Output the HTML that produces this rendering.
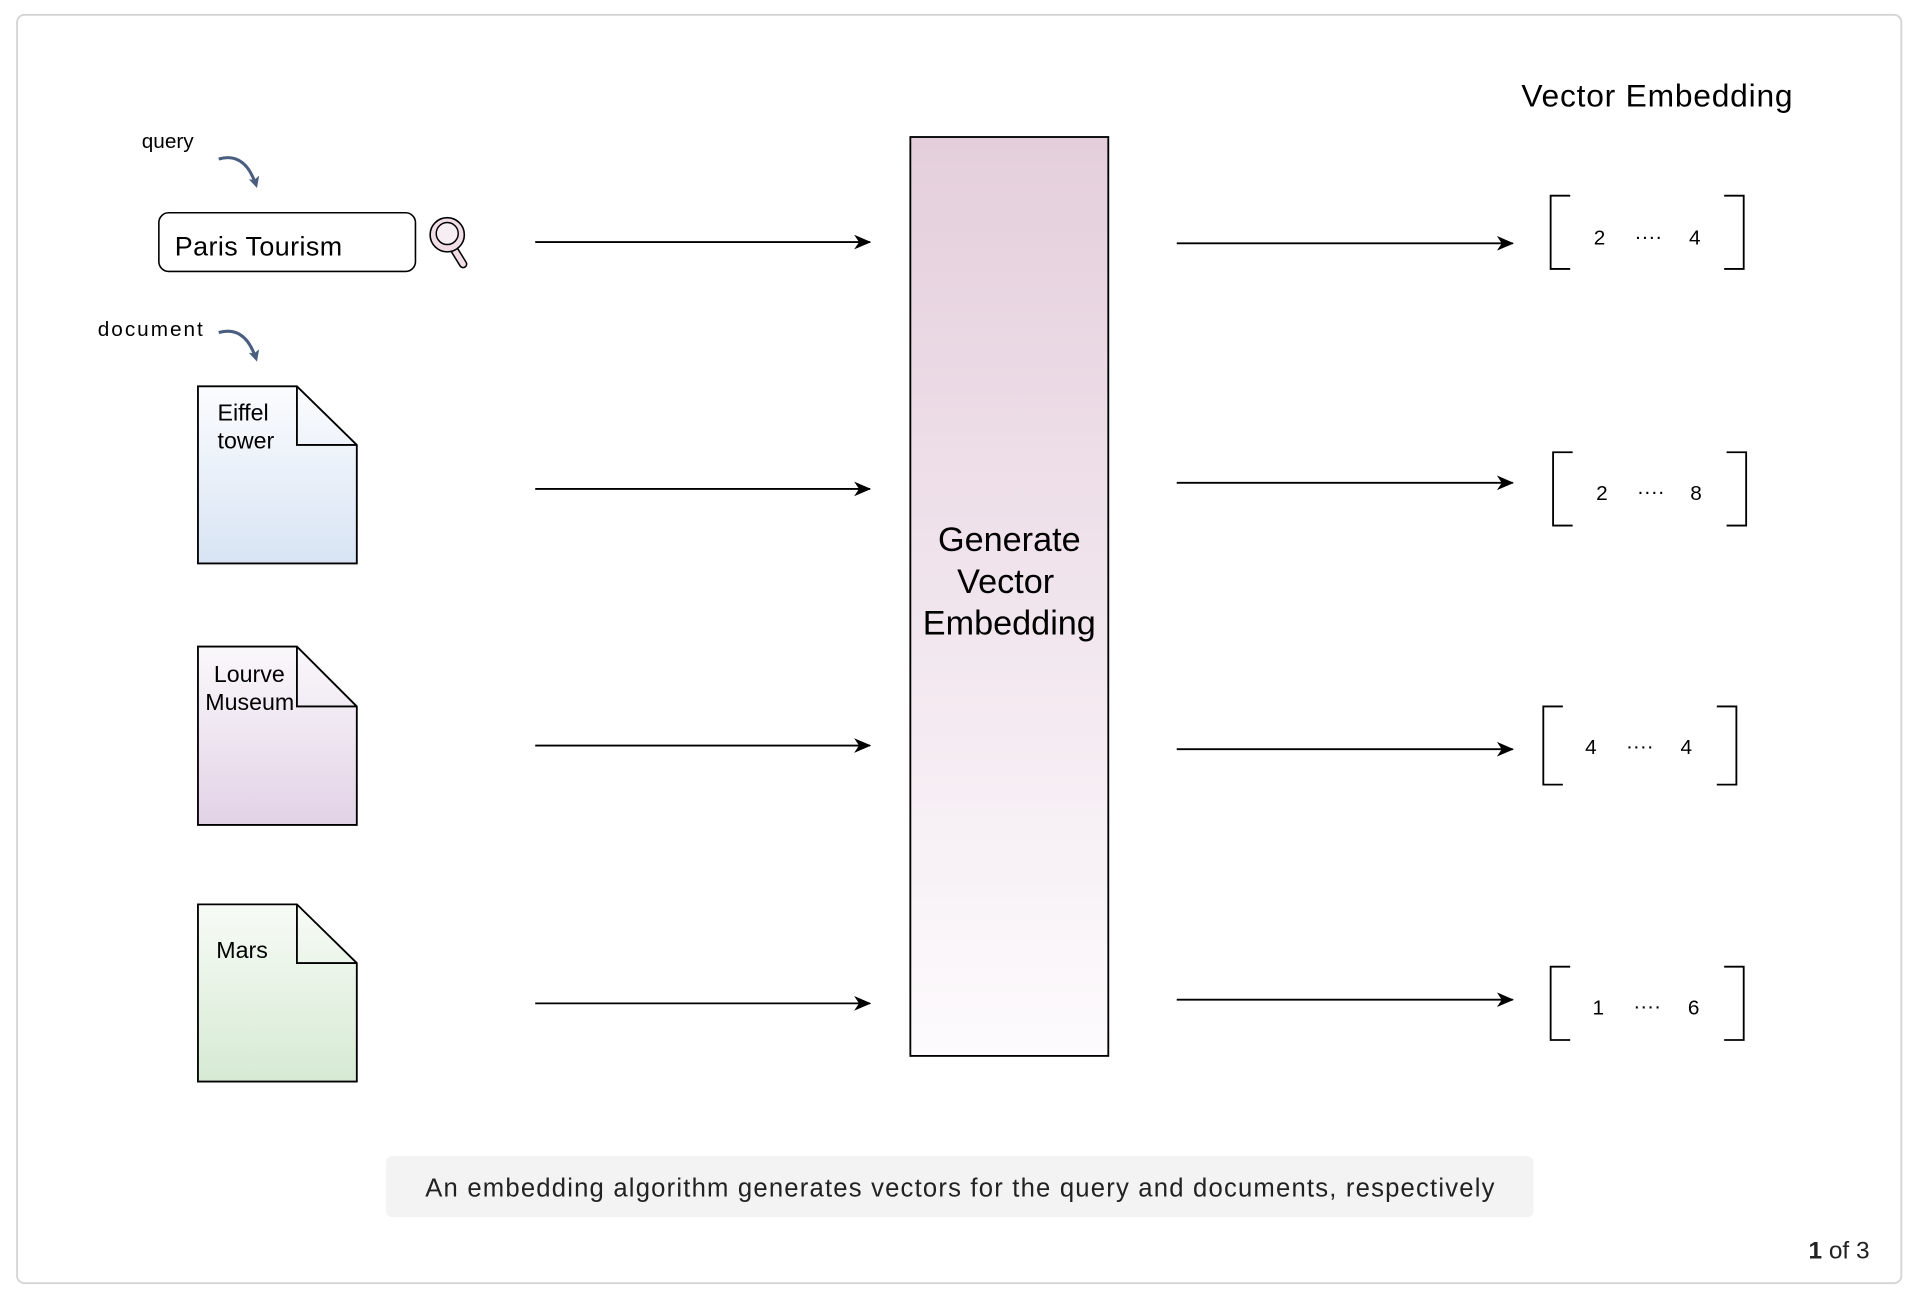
<!DOCTYPE html>
<html><head><meta charset="utf-8"><style>
html,body{margin:0;padding:0;background:#fff;}
svg{display:block;}
text{font-family:"Liberation Sans",sans-serif;fill:#000;}
</style></head><body>
<svg width="1916" height="1298" viewBox="0 0 1568 1062" xmlns="http://www.w3.org/2000/svg">
<defs>
<linearGradient id="gb" x1="0" y1="0" x2="0" y2="1"><stop offset="0" stop-color="#e4cedc"/><stop offset="1" stop-color="#fdfbfd"/></linearGradient>
<linearGradient id="g1" x1="0" y1="0" x2="0" y2="1"><stop offset="0" stop-color="#fbfcfe"/><stop offset="1" stop-color="#d8e4f4"/></linearGradient>
<linearGradient id="g2" x1="0" y1="0" x2="0" y2="1"><stop offset="0" stop-color="#faf8fb"/><stop offset="1" stop-color="#e2d2e6"/></linearGradient>
<linearGradient id="g3" x1="0" y1="0" x2="0" y2="1"><stop offset="0" stop-color="#f7fbf6"/><stop offset="1" stop-color="#d6ead3"/></linearGradient>
<marker id="ah" markerWidth="14" markerHeight="12" refX="13" refY="6" orient="auto" markerUnits="userSpaceOnUse"><path d="M0,0 L14,6 L0,12 L4,6 Z" fill="#000"/></marker>
<marker id="bh" markerWidth="9" markerHeight="9" refX="5" refY="5" orient="auto" markerUnits="userSpaceOnUse"><path d="M0,0 L9,5 L0,9 L2,5 Z" fill="#4a5f80"/></marker>
</defs>
<rect x="14" y="12" width="1542" height="1038" rx="6" fill="#fff" stroke="#d4d4d4" stroke-width="1.5"/>

<text x="116" y="121" font-size="17">query</text>
<path d="M179,130 Q200,124 209,150" fill="none" stroke="#4a5f80" stroke-width="2.5" marker-end="url(#bh)"/>
<rect x="130" y="174" width="210" height="48" rx="8" fill="#fff" stroke="#000" stroke-width="1.3"/>
<text x="143" y="209" font-size="22" textLength="137">Paris Tourism</text>
<line x1="371" y1="203" x2="379" y2="216" stroke="#000" stroke-width="7" stroke-linecap="round"/>
<line x1="371" y1="203" x2="379" y2="216" stroke="#f0dde6" stroke-width="4.5" stroke-linecap="round"/>
<circle cx="366" cy="192" r="14" fill="#f0dde6" stroke="#000" stroke-width="1.3"/>
<circle cx="366" cy="191" r="9" fill="#f7eef3" stroke="#000" stroke-width="1.2"/>

<text x="80" y="275" font-size="17" textLength="86">document</text>
<path d="M179,272 Q200,266 209,292" fill="none" stroke="#4a5f80" stroke-width="2.5" marker-end="url(#bh)"/>

<path d="M162,316 H243 L292,364 V461 H162 Z" fill="url(#g1)" stroke="#000" stroke-width="1.5"/>
<path d="M243,316 V364 H292" fill="none" stroke="#000" stroke-width="1.5"/>
<text x="178" y="344" font-size="19">Eiffel</text><text x="178" y="367" font-size="19">tower</text>

<path d="M162,529 H243 L292,578 V675 H162 Z" fill="url(#g2)" stroke="#000" stroke-width="1.5"/>
<path d="M243,529 V578 H292" fill="none" stroke="#000" stroke-width="1.5"/>
<text x="175" y="558" font-size="19">Lourve</text><text x="168" y="581" font-size="19">Museum</text>

<path d="M162,740 H243 L292,788 V885 H162 Z" fill="url(#g3)" stroke="#000" stroke-width="1.5"/>
<path d="M243,740 V788 H292" fill="none" stroke="#000" stroke-width="1.5"/>
<text x="177" y="784" font-size="19">Mars</text>

<g stroke="#000" stroke-width="1.5" marker-end="url(#ah)">
<line x1="438" y1="198" x2="712" y2="198"/>
<line x1="438" y1="400" x2="712" y2="400"/>
<line x1="438" y1="610" x2="712" y2="610"/>
<line x1="438" y1="821" x2="712" y2="821"/>
<line x1="963" y1="199" x2="1238" y2="199"/>
<line x1="963" y1="395" x2="1238" y2="395"/>
<line x1="963" y1="613" x2="1238" y2="613"/>
<line x1="963" y1="818" x2="1238" y2="818"/>
</g>

<rect x="745" y="112" width="162" height="752" fill="url(#gb)" stroke="#000" stroke-width="1.5"/>
<text x="826" y="451" font-size="28" text-anchor="middle">Generate</text>
<text x="823" y="485" font-size="28" text-anchor="middle">Vector</text>
<text x="826" y="519" font-size="28" text-anchor="middle">Embedding</text>

<text x="1245" y="87" font-size="26" textLength="222">Vector Embedding</text>

<g fill="none" stroke="#000" stroke-width="1.5">
<path d="M1285,160 H1269 V220 H1285 M1411,160 H1427 V220 H1411"/>
<path d="M1287,370 H1271 V430 H1287 M1413,370 H1429 V430 H1413"/>
<path d="M1279,578 H1263 V642 H1279 M1405,578 H1421 V642 H1405"/>
<path d="M1285,791 H1269 V851 H1285 M1411,791 H1427 V851 H1411"/>
</g>
<g font-size="17" text-anchor="middle">
<text x="1309" y="200">2</text><text x="1349" y="199">····</text><text x="1387" y="200">4</text>
<text x="1311" y="409">2</text><text x="1351" y="408">····</text><text x="1388" y="409">8</text>
<text x="1302" y="617">4</text><text x="1342" y="616">····</text><text x="1380" y="617">4</text>
<text x="1308" y="830">1</text><text x="1348" y="829">····</text><text x="1386" y="830">6</text>
</g>

<rect x="316" y="946" width="939" height="50" rx="5" fill="#f3f3f3"/>
<text x="348" y="979" font-size="21" textLength="875" style="fill:#222">An embedding algorithm generates vectors for the query and documents, respectively</text>
<text x="1530" y="1030" font-size="20" text-anchor="end" style="fill:#222"><tspan font-weight="bold">1</tspan> of 3</text>
</svg>
</body></html>
